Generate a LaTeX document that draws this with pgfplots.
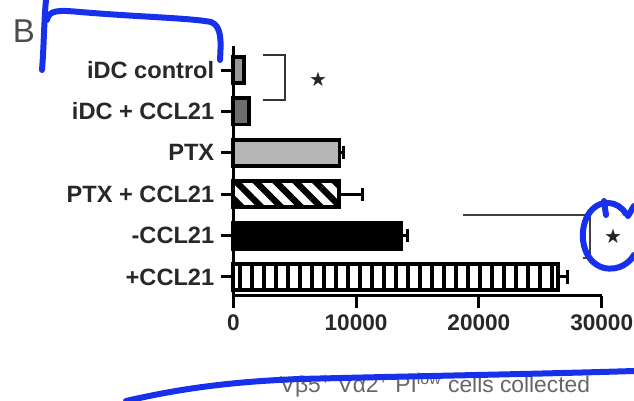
\documentclass[border=0pt]{standalone}
\usepackage{fontspec}
\setmainfont{Liberation Sans}
\newfontfamily\symfont{DejaVu Sans}
\usepackage{pgfplots}
\pgfplotsset{compat=1.18}
\usetikzlibrary{patterns.meta}
\definecolor{scribble}{RGB}{22,48,235}
\definecolor{txt}{RGB}{40,40,40}
\definecolor{ptxgray}{RGB}{182,182,182}
\definecolor{idcgray}{RGB}{150,150,150}
\definecolor{idcdark}{RGB}{110,110,110}

\begin{document}
\begin{tikzpicture}
\begin{axis}[
  at={(116.65pt,-148pt)}, anchor=south west,
  scale only axis, width=184.2pt, height=125pt,
  xmin=0, xmax=30000, ymin=-0.46, ymax=5.58,
  axis x line=bottom, axis y line=left,
  axis line style={-, line width=1.5pt, black},
  tick align=outside, major tick length=6pt,
  tick style={line width=1.5pt, black},
  scaled x ticks=false,
  xtick={0,10000,20000,30000}, xticklabels={0,10000,20000,30000},
  ytick={0,1,2,3,4,5},
  yticklabels={+CCL21,-CCL21,PTX + CCL21,PTX,iDC + CCL21,iDC control},
  ticklabel style={font=\fontsize{11.8}{13}\selectfont\bfseries, text=txt},
  xticklabel style={font=\fontsize{11.3}{13}\selectfont\bfseries, text=txt},
  xbar, bar width=0.63, bar shift=0pt,
  error bars/error mark=|,
  error bars/error bar style={line width=1.5pt, black},
  error bars/error mark options={line width=1.5pt, mark size=3.3pt, black},
  clip=false,
  xlabel={Vβ5\textsuperscript{+} Vα2\textsuperscript{+} PI\textsuperscript{low} cells collected},
  xlabel style={at={(axis description cs:0.5475,0)}, anchor=north, yshift=-35pt,
    font=\fontsize{11.4}{13}\selectfont, text=black!60},
]
\addplot[draw=black, line width=1.9pt, fill=idcgray]
  coordinates {(870,5)};
\addplot[draw=black, line width=1.9pt, fill=idcdark]
  coordinates {(1280,4)};
\addplot[draw=black, line width=1.9pt, fill=ptxgray,
  error bars/.cd, x dir=plus, x explicit]
  coordinates {(8650,3) +- (350,0)};
\addplot[draw=black, line width=1.9pt,
  pattern={Lines[angle=-45,distance=7pt,line width=3.2pt]}, pattern color=black,
  error bars/.cd, x dir=plus, x explicit]
  coordinates {(8600,2) +- (1950,0)};
\addplot[draw=black, line width=1.9pt, fill=black,
  error bars/.cd, x dir=plus, x explicit]
  coordinates {(13650,1) +- (500,0)};
\addplot[draw=black, line width=1.9pt,
  pattern={Lines[angle=90,distance=6pt,line width=1.9pt]}, pattern color=black,
  error bars/.cd, x dir=plus, x explicit]
  coordinates {(26450,0) +- (800,0)};
\end{axis}

\begin{scope}[x=0.5pt,y=-0.5pt]
  % panel letter
  \node[font=\fontsize{16.5}{18}\selectfont, text=black!70] at (24,31) {B};
  % significance brackets
  \draw[line width=1pt, black!80] (263,55) -- (285,55) -- (285,100) -- (263,100);
  \node[font=\symfont\fontsize{10}{11}\selectfont, text=black!85] at (318,79) {★};
  \draw[line width=1pt, black!75] (463,215) -- (590,215) -- (590,258) -- (583,258);
  \node[font=\symfont\fontsize{10}{11}\selectfont, text=black!85] at (613,236) {★};
  % hand-drawn blue annotations
  \begin{scope}[draw=scribble, line width=3pt, line cap=round, line join=round]
    \draw (42,70) .. controls (44,45) and (44,20) .. (46,0);
    \draw (47,20) .. controls (49,10) and (58,10) .. (80,12)
          .. controls (140,17) and (190,18) .. (211,22)
          .. controls (222,26) and (221,42) .. (220,60);
    \draw (126,401) .. controls (170,391) and (220,382) .. (300,379)
          .. controls (420,376) and (540,374) .. (634,371);
    \draw (626,214) .. controls (618,200) and (598,198) .. (588,215)
          .. controls (578,232) and (582,262) .. (604,268)
          .. controls (620,271) and (630,262) .. (634,255);
    \draw (604,201) -- (606,215);
    \draw (628,216) -- (634,206);
  \end{scope}
\end{scope}
\pgfresetboundingbox
\path[use as bounding box] (0,0) rectangle (317pt,-200.5pt);
\end{tikzpicture}
\end{document}
